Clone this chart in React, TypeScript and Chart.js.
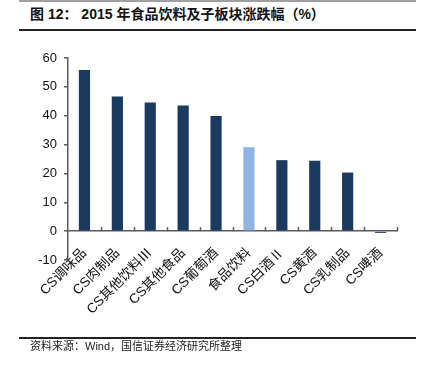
import React, { useEffect, useRef } from "react";
import { Chart, registerables } from "chart.js";

Chart.register(...registerables);

const categories = [
  "CS调味品",
  "CS肉制品",
  "CS其他饮料Ⅲ",
  "CS其他食品",
  "CS葡萄酒",
  "食品饮料",
  "CS白酒Ⅱ",
  "CS黄酒",
  "CS乳制品",
  "CS啤酒",
];
const values = [55.8, 46.7, 44.6, 43.5, 39.9, 29.1, 24.6, 24.4, 20.3, -0.6];
const highlight = "食品饮料";
const yMin = -10;
const yMax = 60;
const yStep = 10;

const DARK = "#1a3a60";
const LIGHT = "#8fb4e3";
const AXIS = "#5a5a5a";
const FONT = '"Liberation Sans", "Noto Sans CJK SC", sans-serif';

const xTicksPlugin = {
  id: "xTicksUp",
  afterDraw(chart: any) {
    const xs = chart.scales.x;
    const ys = chart.scales.y;
    const y0 = ys.getPixelForValue(0);
    const ctx = chart.ctx;
    ctx.save();
    ctx.strokeStyle = AXIS;
    ctx.lineWidth = 1.5;
    for (let i = 1; i <= categories.length; i++) {
      const px = Math.round(xs.getPixelForValue(i - 0.5)) + 0.5;
      ctx.beginPath();
      ctx.moveTo(px, y0);
      ctx.lineTo(px, y0 - 4);
      ctx.stroke();
    }
    ctx.restore();
  },
};

export default function App() {
  const ref = useRef<HTMLCanvasElement>(null);

  useEffect(() => {
    if (!ref.current) return;
    const chart = new Chart(ref.current, {
      type: "bar",
      data: {
        labels: categories,
        datasets: [
          {
            data: values,
            backgroundColor: categories.map((c) => (c === highlight ? LIGHT : DARK)),
            categoryPercentage: 1,
            barPercentage: 0.34,
            borderWidth: 0,
          },
        ],
      },
      options: {
        responsive: false,
        animation: false,
        devicePixelRatio: 1,
        layout: { padding: { top: 58, left: 0, right: 27, bottom: 107 } },
        plugins: {
          legend: { display: false },
          tooltip: { enabled: false },
          title: { display: false },
        },
        scales: {
          x: {
            position: { y: 0 } as any,
            grid: { display: false },
            border: { display: true, color: AXIS, width: 1.5 },
            ticks: {
              minRotation: 45,
              maxRotation: 45,
              autoSkip: false,
              padding: 6,
              color: "#111",
              font: { family: FONT, size: 13.5 },
            },
          },
          y: {
            min: yMin,
            max: yMax,
            afterFit: (s: any) => {
              s.width = 68;
            },
            grid: {
              display: true,
              drawOnChartArea: false,
              drawTicks: true,
              tickLength: 4,
              color: AXIS,
              lineWidth: 1.5,
            },
            border: { display: true, color: AXIS, width: 1.5 },
            ticks: {
              stepSize: yStep,
              padding: 7,
              color: "#111",
              font: { family: FONT, size: 13 },
            },
          },
        },
      },
      plugins: [xTicksPlugin],
    });
    return () => chart.destroy();
  }, []);

  const line = (top: number, h: number, color: string): React.CSSProperties => ({
    position: "absolute",
    left: 19,
    top,
    width: 397,
    height: h,
    background: color,
  });

  return (
    <div style={{ position: "absolute", left: 0, top: 0, width: 424, height: 367, background: "#fff", overflow: "hidden" }}>
      <div style={line(0, 2, "#a0a0a0")} />
      <div
        style={{
          position: "absolute",
          left: 30,
          top: 5,
          fontFamily: FONT,
          fontWeight: "bold",
          fontSize: 14,
          color: "#111",
          whiteSpace: "pre",
          lineHeight: "18px",
        }}
      >
        图 12： 2015 年食品饮料及子板块涨跌幅（%）
      </div>
      <div style={line(29, 1.5, "#222")} />
      <canvas ref={ref} width={424} height={367} style={{ position: "absolute", left: 0, top: 0 }} />
      <div style={line(337, 1.5, "#222")} />
      <div
        style={{
          position: "absolute",
          left: 30,
          top: 339,
          fontFamily: FONT,
          fontSize: 11,
          color: "#222",
          whiteSpace: "nowrap",
          lineHeight: "15px",
        }}
      >
        资料来源：Wind，国信证券经济研究所整理
      </div>
    </div>
  );
}
